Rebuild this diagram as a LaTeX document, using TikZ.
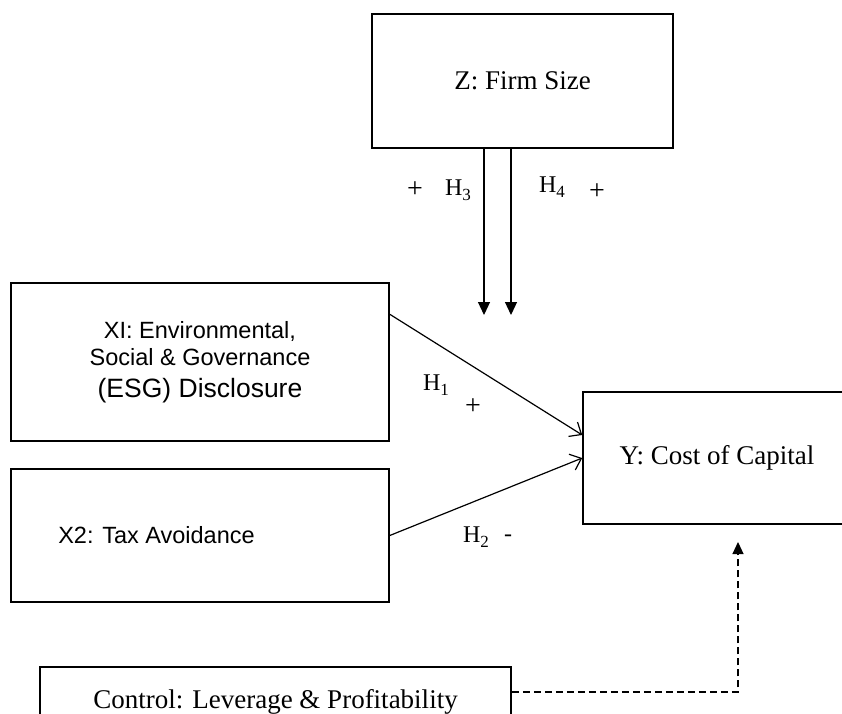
\documentclass[tikz,border=0pt]{standalone}
\usepackage{fontspec}
\setmainfont{Liberation Serif}
\setsansfont{Liberation Sans}
\usetikzlibrary{arrows.meta}
\newcommand\hsub[1]{\raisebox{-5.5pt}{\fontsize{17}{17}\selectfont #1}}
\begin{document}
\begin{tikzpicture}[x=1pt,y=-1pt,
  box/.style={draw, line width=1.5pt, inner sep=0pt, font=\fontsize{27}{30}\selectfont},
  sbox/.style={box, font=\sffamily\fontsize{23.5}{27}\selectfont, align=center},
  conn/.style={line width=1.2pt},
  lab/.style={font=\fontsize{24}{26}\selectfont, inner sep=0pt},
  openarrow/.style={-{Straight Barb[length=10pt,width=17pt,line width=1.2pt]}},
  fillarrow/.style={-{Triangle[length=13pt,width=12pt]}}
]
\useasboundingbox (0,0) rectangle (842,713);

\node[box, minimum width=301pt, minimum height=134pt] (Z) at (522.5,81) {Z: Firm Size};
\node[sbox, minimum width=378pt, minimum height=158pt] (X1) at (200,362)
  {XI: Environmental,\\ Social \& Governance\\[5pt] {\fontsize{26.5}{27}\selectfont (ESG) Disclosure}};
\node[sbox, minimum width=378pt, minimum height=133pt] (X2) at (200,535.5)
  {X2: Tax Avoidance\hspace*{87pt}};
\node[box, minimum width=268pt, minimum height=132pt] (Y) at (717,458) {Y: Cost of Capital};
\node[box, minimum width=471pt, minimum height=69pt] (C) at (275.5,701.5) {Control: Leverage \& Profitability};

\coordinate (z3) at (484,315);
\coordinate (z4) at (511,315);
\coordinate (ct) at (738,542);

\draw[conn, fillarrow] (Z.south -| z3) -- (z3);
\draw[conn, fillarrow] (Z.south -| z4) -- (z4);
\draw[conn, openarrow] ([yshift=-32pt]X1.north east) -- ([yshift=23pt]Y.west);
\draw[conn, openarrow] (X2.east) -- (Y.west);
\draw[conn, dash pattern=on 7pt off 4pt, -{Triangle[length=12pt,width=11pt]}] ([yshift=9.5pt]C.east) -| (ct);

\node[lab, font=\fontsize{28}{28}\selectfont] (p3) at (415,190) {+};
\node[lab] (h3) at (458,190) {H\hsub{3}};
\node[lab] (h4) at (552,187) {H\hsub{4}};
\node[lab, font=\fontsize{28}{28}\selectfont] (p4) at (597,192) {+};
\node[lab] (h1) at (436,385) {H\hsub{1}};
\node[lab, font=\fontsize{28}{28}\selectfont] (p1) at (473,407) {+};
\node[lab] (h2) at (476,537) {H\hsub{2}};
\node[lab] (m2) at (508,538) {-};
\end{tikzpicture}
\end{document}
